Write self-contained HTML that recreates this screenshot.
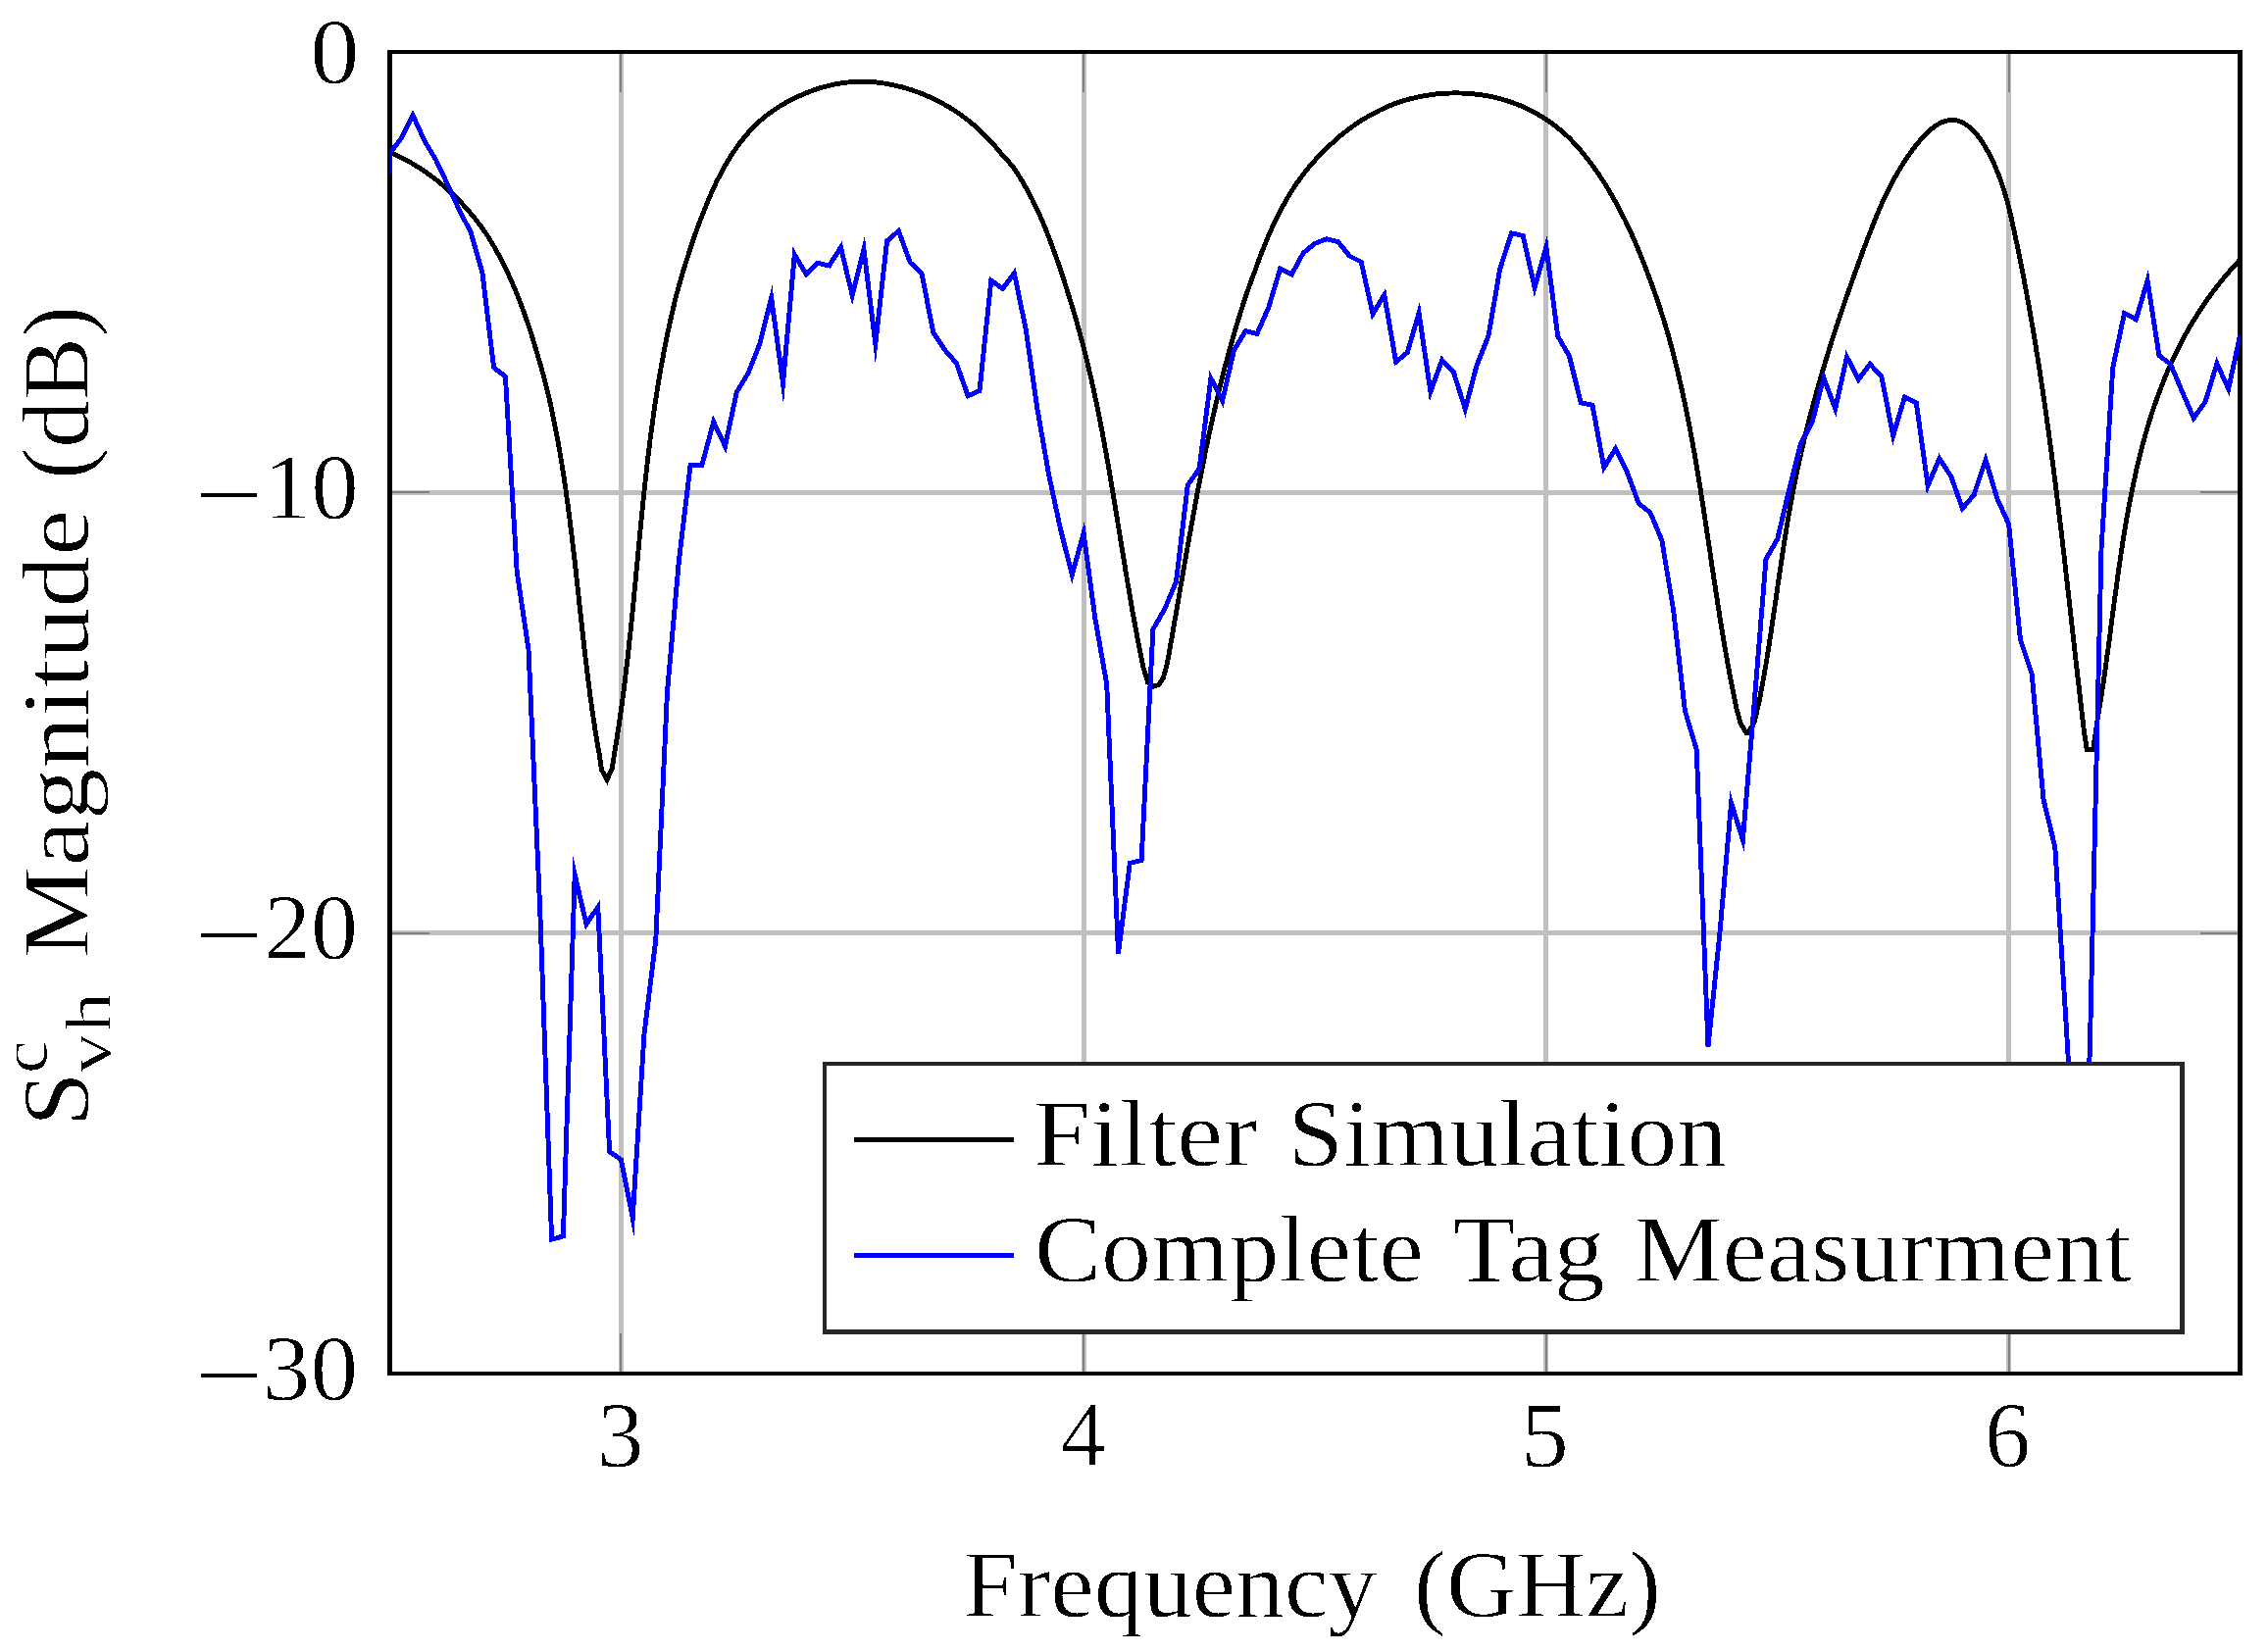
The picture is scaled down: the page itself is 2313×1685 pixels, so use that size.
<!DOCTYPE html>
<html lang="en"><head><meta charset="utf-8"><title>Filter Simulation vs Complete Tag Measurment</title>
<style>html,body{margin:0;padding:0;background:#fff}svg{display:block}</style></head>
<body>
<svg xmlns="http://www.w3.org/2000/svg" width="2313" height="1685" viewBox="0 0 2313 1685" font-family="Liberation Serif, serif" fill="#000" shape-rendering="crispEdges">
<rect width="2313" height="1685" fill="#fff"/>
<defs><filter id="th" filterUnits="userSpaceOnUse" x="0" y="0" width="2313" height="1685" color-interpolation-filters="sRGB"><feColorMatrix type="matrix" values="0 0 0 0 0 0 0 0 0 0 0 0 0 0 0 -1 0 0 1 0"/><feComponentTransfer><feFuncA type="discrete" tableValues="0 1"/></feComponentTransfer></filter><clipPath id="c"><rect x="397.5" y="53.1" width="1887" height="1347.8"/></clipPath></defs>
<path d="M633.4 53.1V1400.9M1105.1 53.1V1400.9M1576.9 53.1V1400.9M2048.6 53.1V1400.9M397.5 502.4H2284.5M397.5 951.6H2284.5" stroke="#bfbfbf" stroke-width="5.0" fill="none"/>
<path d="M633.4 53.1v40.5M633.4 1400.9v-40.5M1105.1 53.1v40.5M1105.1 1400.9v-40.5M1576.9 53.1v40.5M1576.9 1400.9v-40.5M2048.6 53.1v40.5M2048.6 1400.9v-40.5M397.5 53.1h40.5M2284.5 53.1h-40.5M397.5 502.4h40.5M2284.5 502.4h-40.5M397.5 951.6h40.5M2284.5 951.6h-40.5M397.5 1400.9h40.5M2284.5 1400.9h-40.5" stroke="#7f7f7f" stroke-width="1.9" fill="none"/>
<rect x="397.5" y="53.1" width="1887" height="1347.8" fill="none" stroke="#000" stroke-width="4.6"/>
<g clip-path="url(#c)" fill="none" stroke-linejoin="miter" stroke-miterlimit="10" stroke-width="4.9">
<path d="M397.4 155.1 L400.3 156.4 L403.2 157.7 L406 159.1 L408.8 160.5 L411.6 161.9 L414.3 163.3 L417 164.8 L419.7 166.3 L422.3 167.9 L424.9 169.5 L427.5 171.1 L430 172.7 L432.5 174.4 L435 176.1 L437.4 177.9 L439.9 179.6 L442.2 181.4 L444.6 183.2 L446.9 185.1 L449.2 187 L451.4 188.9 L453.7 190.8 L455.9 192.7 L458.1 194.7 L460.2 196.7 L462.3 198.7 L464.4 200.7 L466.5 202.7 L468.5 204.8 L470.5 206.9 L472.5 209 L474.4 211.1 L476.3 213.3 L478.2 215.4 L480.1 217.7 L481.9 219.9 L483.8 222.1 L485.6 224.4 L487.3 226.7 L489.1 229 L490.8 231.3 L492.5 233.7 L494.1 236 L495.8 238.4 L497.4 240.9 L499 243.5 L500.6 246.1 L502.1 248.7 L503.7 251.3 L505.2 253.9 L506.7 256.6 L508.1 259.2 L509.6 261.9 L511 264.6 L512.4 267.3 L513.8 270 L515.1 272.8 L516.5 275.6 L517.8 278.4 L519.1 281.2 L520.4 284 L521.6 286.9 L522.9 289.7 L524.1 292.6 L525.3 295.4 L526.5 298.3 L527.7 301.2 L528.8 304.1 L530 307 L531.1 309.9 L532.2 312.8 L533.3 315.7 L534.3 318.6 L535.4 321.6 L536.4 324.5 L537.4 327.4 L538.4 330.4 L539.4 333.3 L540.4 336.3 L541.4 339.2 L542.3 342.2 L543.2 345.2 L544.1 348.2 L545.1 351.1 L545.9 354.1 L546.8 357.1 L547.7 360.1 L548.5 363.1 L549.4 366 L550.2 368.8 L551 371.6 L551.8 374.5 L552.6 377.3 L553.4 380.1 L554.2 383 L554.9 385.8 L555.7 388.7 L556.4 391.5 L557.1 394.4 L557.8 397.2 L558.6 400.1 L559.2 403 L559.9 405.9 L560.6 408.8 L561.3 411.8 L561.9 414.8 L562.6 417.7 L563.2 420.7 L563.8 423.7 L564.4 426.7 L565 429.7 L565.6 432.7 L566.2 435.7 L566.8 438.6 L567.4 441.6 L568 444.6 L568.5 447.6 L569.1 450.6 L569.6 453.7 L570.1 456.7 L570.7 459.7 L571.2 462.7 L571.7 465.7 L572.2 468.7 L572.7 471.7 L573.2 474.7 L573.7 477.8 L574.1 480.8 L574.6 483.8 L575.1 486.8 L575.5 489.9 L576 492.9 L576.4 495.9 L576.9 498.9 L577.3 502 L577.7 505 L578.1 508 L578.6 511.1 L579 514.1 L579.4 517.1 L579.8 520.2 L580.2 523.2 L580.6 526.3 L581 529.3 L581.3 532.3 L581.7 535.4 L582.1 538.4 L582.5 541.5 L582.9 544.5 L583.2 547.5 L583.6 550.6 L583.9 553.6 L584.3 556.7 L584.7 559.7 L585 562.8 L585.4 565.8 L585.7 568.8 L586.1 571.9 L586.4 574.9 L586.7 578 L587.1 581 L587.4 584.1 L587.8 587.1 L588.1 590.1 L588.4 593.2 L588.8 596.2 L589.1 599.2 L589.4 602.3 L589.8 605.3 L590.1 608.4 L590.4 611.4 L590.7 614.4 L591.1 617.5 L591.4 620.5 L591.7 623.5 L592.1 626.6 L592.4 629.6 L592.7 632.6 L593.1 635.6 L593.4 638.7 L593.7 641.7 L594.1 644.7 L594.4 647.7 L594.7 650.7 L595.1 653.8 L595.4 656.8 L595.8 659.8 L596.1 662.8 L596.5 665.8 L596.8 668.8 L597.2 671.8 L597.5 674.8 L597.9 677.8 L598.2 680.8 L598.6 683.8 L599 686.8 L599.3 689.8 L599.7 692.8 L600.1 695.8 L600.5 698.8 L600.9 701.7 L601.2 704.7 L601.6 707.7 L602 710.7 L602.4 713.6 L602.9 716.6 L603.3 719.6 L603.7 722.5 L604.1 725.5 L604.5 728.4 L605 731.4 L605.4 734.3 L605.9 737.3 L606.3 740.2 L606.8 743.2 L607.2 746.1 L607.7 749 L608.2 752 L608.7 754.9 L609.2 757.8 L609.6 760.7 L610.2 763.6 L610.7 766.5 L611.2 769.4 L613.5 785.2 L619.1 795.4 L624.3 783.6 L627.7 761.6 L628.2 758.6 L628.7 755.6 L629.2 752.7 L629.6 749.7 L630.1 746.7 L630.6 743.8 L631 740.8 L631.5 737.8 L631.9 734.8 L632.3 731.9 L632.8 728.9 L633.2 725.9 L633.6 722.9 L634 720 L634.4 717 L634.8 714 L635.2 711 L635.6 708 L636 705.1 L636.4 702.1 L636.7 699.1 L637.1 696.1 L637.5 693.1 L637.8 690.1 L638.2 687.2 L638.6 684.2 L638.9 681.2 L639.3 678.2 L639.6 675.2 L640 672.2 L640.3 669.3 L640.6 666.3 L641 663.3 L641.3 660.3 L641.6 657.3 L641.9 654.3 L642.2 651.3 L642.6 648.3 L642.9 645.4 L643.2 642.4 L643.5 639.4 L643.8 636.4 L644.1 633.4 L644.4 630.4 L644.7 627.4 L645 624.4 L645.3 621.4 L645.6 618.4 L645.9 615.4 L646.2 612.5 L646.5 609.5 L646.8 606.5 L647 603.5 L647.3 600.5 L647.6 597.5 L647.9 594.5 L648.2 591.5 L648.5 588.5 L648.7 585.5 L649 582.5 L649.3 579.5 L649.6 576.6 L649.9 573.6 L650.2 570.6 L650.4 567.6 L650.7 564.6 L651 561.6 L651.3 558.6 L651.6 555.6 L651.9 552.6 L652.1 549.6 L652.4 546.6 L652.7 543.6 L653 540.6 L653.3 537.7 L653.6 534.7 L653.9 531.7 L654.2 528.7 L654.5 525.7 L654.8 522.7 L655.1 519.7 L655.4 516.7 L655.7 513.7 L656 510.7 L656.3 507.8 L656.6 504.8 L656.9 501.8 L657.2 498.8 L657.6 495.8 L657.9 492.8 L658.2 489.8 L658.5 486.8 L658.9 483.9 L659.2 480.9 L659.5 477.9 L659.9 474.9 L660.2 471.9 L660.6 468.9 L660.9 465.9 L661.3 463 L661.6 460 L662 457 L662.4 454 L662.7 451 L663.1 448 L663.5 445.1 L663.9 442.1 L664.3 439.1 L664.7 436.1 L665.1 433.1 L665.5 430.2 L665.9 427.2 L666.3 424.2 L666.7 421.2 L667.2 418.3 L667.6 415.3 L668 412.3 L668.5 409.3 L668.9 406.4 L669.4 403.4 L669.9 400.4 L670.3 397.5 L670.8 394.5 L671.3 391.5 L671.8 388.6 L672.3 385.6 L672.8 382.6 L673.3 379.7 L673.8 376.7 L674.3 373.7 L674.9 370.8 L675.4 367.8 L676 364.8 L676.5 361.9 L677.1 358.9 L677.6 356 L678.2 353 L678.8 350 L679.4 347.1 L680 344.1 L680.6 341.2 L681.2 338.2 L681.9 335.3 L682.5 332.3 L683.1 329.4 L683.8 326.4 L684.5 323.5 L685.1 320.5 L685.8 317.6 L686.5 314.6 L687.2 311.7 L687.9 308.8 L688.6 305.8 L689.4 302.9 L690.1 300 L690.9 297.2 L691.6 294.4 L692.4 291.6 L693.2 288.8 L694 286.1 L694.8 283.3 L695.6 280.5 L696.4 277.8 L697.2 275 L698.1 272.2 L698.9 269.5 L699.8 266.7 L700.7 263.9 L701.6 261.1 L702.5 258.3 L703.4 255.4 L704.3 252.6 L705.2 249.8 L706.2 247 L707.1 244.1 L708.1 241.3 L709.1 238.5 L710.1 235.7 L711.1 232.9 L712.1 230.1 L713.2 227.3 L714.2 224.5 L715.3 221.7 L716.4 219 L717.5 216.2 L718.6 213.4 L719.7 210.7 L720.9 207.8 L722 205 L723.2 202.1 L724.5 199.3 L725.7 196.5 L726.9 193.7 L728.2 190.9 L729.5 188.1 L730.8 185.3 L732.2 182.6 L733.6 179.9 L735 177.2 L736.4 174.5 L737.8 171.8 L739.3 169.2 L740.8 166.6 L742.3 164 L743.9 161.5 L745.5 158.9 L747.1 156.4 L748.8 154 L750.5 151.5 L752.2 149.1 L753.9 146.7 L755.7 144.4 L757.6 142.1 L759.4 139.8 L761.3 137.5 L763.2 135.3 L765.2 133.2 L767.2 131 L769.2 128.9 L771.3 126.9 L773.4 124.9 L775.6 122.9 L777.8 121 L780 119.1 L782.3 117.3 L784.6 115.6 L787 113.9 L789.4 112.2 L791.8 110.6 L794.3 109 L796.8 107.4 L799.3 106 L801.8 104.5 L804.4 103.1 L807 101.8 L809.7 100.5 L812.3 99.2 L815 98 L817.7 96.7 L820.5 95.6 L823.2 94.4 L826 93.3 L828.8 92.3 L831.6 91.3 L834.5 90.4 L837.3 89.5 L840.2 88.7 L843.1 87.9 L846 87.2 L848.9 86.5 L851.8 85.9 L854.8 85.4 L857.7 84.9 L860.7 84.5 L863.6 84.1 L866.6 83.8 L869.6 83.5 L872.6 83.3 L875.5 83.2 L878.5 83.1 L881.5 83.1 L884.5 83.2 L887.5 83.4 L890.5 83.7 L893.5 83.9 L896.5 84.3 L899.4 84.7 L902.4 85.1 L905.4 85.6 L908.3 86.2 L911.3 86.8 L914.2 87.5 L917.2 88.2 L920.1 88.9 L923 89.8 L925.9 90.6 L928.8 91.5 L931.7 92.5 L934.6 93.5 L937.4 94.5 L940.2 95.6 L943.1 96.8 L945.8 98 L948.6 99.2 L951.4 100.5 L954.1 101.8 L956.8 103.1 L959.5 104.5 L962.1 106 L964.8 107.5 L967.4 109 L970 110.6 L972.5 112.2 L975 113.8 L977.5 115.5 L980 117.2 L982.4 119 L984.8 120.8 L987.2 122.6 L989.5 124.5 L991.8 126.4 L994.1 128.3 L996.3 130.3 L998.5 132.3 L1000.7 134.3 L1002.8 136.4 L1004.9 138.5 L1007 140.6 L1009 142.8 L1011 145 L1013 147.2 L1015 149.4 L1016.9 151.7 L1018.8 154 L1020.7 156.2 L1022.5 158.1 L1024.3 160 L1026.1 162 L1027.9 164 L1029.6 166.1 L1031.3 168.1 L1033 170.2 L1034.7 172.4 L1036.3 174.8 L1037.9 177.3 L1039.5 179.9 L1041 182.5 L1042.6 185 L1044.1 187.6 L1045.6 190.3 L1047.1 192.9 L1048.5 195.6 L1050 198.2 L1051.4 200.9 L1052.8 203.6 L1054.1 206.3 L1055.5 209 L1056.8 211.8 L1058.1 214.5 L1059.4 217.3 L1060.7 220.2 L1062 223.1 L1063.2 226.1 L1064.5 229.1 L1065.7 232 L1066.9 235 L1068 238 L1069.2 241 L1070.4 244 L1071.5 247 L1072.6 250 L1073.7 253 L1074.8 256 L1075.9 259 L1077 262 L1078 265 L1079.1 268 L1080.1 271 L1081.2 274 L1082.2 277 L1083.2 280 L1084.2 283 L1085.1 286 L1086.1 289.1 L1087.1 292.1 L1088 295.1 L1088.9 298.1 L1089.9 301.1 L1090.8 304 L1091.7 306.9 L1092.6 309.8 L1093.4 312.6 L1094.3 315.5 L1095.2 318.4 L1096 321.3 L1096.9 324.2 L1097.7 327.1 L1098.5 330 L1099.3 332.9 L1100.1 335.8 L1100.9 338.7 L1101.7 341.6 L1102.5 344.5 L1103.3 347.4 L1104 350.3 L1104.8 353.2 L1105.5 356.1 L1106.3 359 L1107 361.9 L1107.7 364.8 L1108.4 367.8 L1109.1 370.7 L1109.8 373.6 L1110.5 376.5 L1111.2 379.4 L1111.9 382.3 L1112.5 385.2 L1113.2 388.2 L1113.8 391.1 L1114.5 394 L1115.1 396.9 L1115.8 399.8 L1116.4 402.8 L1117 405.7 L1117.6 408.6 L1118.3 411.5 L1118.9 414.5 L1119.5 417.4 L1120.1 420.3 L1120.6 423.3 L1121.2 426.2 L1121.8 429.1 L1122.4 432.1 L1122.9 435 L1123.5 437.9 L1124.1 440.9 L1124.6 443.8 L1125.2 446.7 L1125.7 449.7 L1126.3 452.6 L1126.8 455.5 L1127.3 458.5 L1127.9 461.4 L1128.4 464.4 L1128.9 467.3 L1129.4 470.3 L1130 473.2 L1130.5 476.1 L1131 479.1 L1131.5 482 L1132 485 L1132.5 487.9 L1133 490.9 L1133.5 493.8 L1134 496.8 L1134.5 499.7 L1135 502.7 L1135.5 505.6 L1136 508.6 L1136.5 511.5 L1136.9 514.5 L1137.4 517.4 L1137.9 520.4 L1138.4 523.3 L1138.9 526.3 L1139.4 529.3 L1139.8 532.2 L1140.3 535.2 L1140.8 538.1 L1141.3 541.1 L1141.8 544 L1142.2 547 L1142.7 550 L1143.2 552.9 L1143.7 555.9 L1144.2 558.8 L1144.6 561.8 L1145.1 564.8 L1145.6 567.7 L1146.1 570.7 L1146.6 573.7 L1147.1 576.6 L1147.5 579.6 L1148 582.5 L1148.5 585.5 L1149 588.5 L1149.5 591.4 L1150 594.4 L1150.5 597.4 L1151 600.3 L1151.5 603.3 L1152 606.3 L1152.5 609.2 L1153.1 612.2 L1153.6 615.2 L1154.1 618.1 L1154.6 621.1 L1155.1 624.1 L1155.7 627 L1156.2 630 L1156.7 633 L1157.3 635.9 L1157.8 638.9 L1158.4 641.9 L1158.9 644.8 L1159.5 647.8 L1160 650.8 L1160.6 653.7 L1161.2 656.7 L1161.7 659.7 L1162.3 662.7 L1162.9 665.6 L1163.5 668.6 L1164.1 671.6 L1164.7 674.5 L1165.3 677.5 L1165.9 680.5 L1170.6 696.2 L1176.1 700.2 L1181.7 698.6 L1186.4 691.5 L1190.3 677.3 L1190.8 674.3 L1191.4 671.3 L1191.9 668.4 L1192.4 665.4 L1193 662.4 L1193.5 659.4 L1194 656.4 L1194.5 653.4 L1195.1 650.4 L1195.6 647.5 L1196.1 644.5 L1196.6 641.5 L1197.1 638.5 L1197.6 635.5 L1198.2 632.6 L1198.7 629.6 L1199.2 626.6 L1199.7 623.6 L1200.2 620.7 L1200.7 617.7 L1201.2 614.7 L1201.8 611.8 L1202.3 608.8 L1202.8 605.8 L1203.3 602.8 L1203.8 599.9 L1204.3 596.9 L1204.8 594 L1205.3 591 L1205.9 588 L1206.4 585.1 L1206.9 582.1 L1207.4 579.1 L1207.9 576.2 L1208.4 573.2 L1208.9 570.3 L1209.5 567.3 L1210 564.4 L1210.5 561.4 L1211 558.5 L1211.5 555.5 L1212.1 552.5 L1212.6 549.6 L1213.1 546.6 L1213.6 543.7 L1214.2 540.7 L1214.7 537.8 L1215.2 534.9 L1215.8 531.9 L1216.3 529 L1216.8 526 L1217.4 523.1 L1217.9 520.1 L1218.5 517.2 L1219 514.2 L1219.5 511.3 L1220.1 508.4 L1220.6 505.4 L1221.2 502.5 L1221.8 499.5 L1222.3 496.6 L1222.9 493.7 L1223.4 490.7 L1224 487.8 L1224.6 484.9 L1225.2 481.9 L1225.7 479 L1226.3 476.1 L1226.9 473.1 L1227.5 470.2 L1228.1 467.3 L1228.7 464.3 L1229.2 461.4 L1229.8 458.5 L1230.4 455.6 L1231.1 452.7 L1231.7 449.8 L1232.3 446.9 L1232.9 444 L1233.5 441.1 L1234.1 438.3 L1234.8 435.4 L1235.4 432.5 L1236 429.6 L1236.7 426.7 L1237.3 423.8 L1238 421 L1238.6 418.1 L1239.3 415.2 L1239.9 412.3 L1240.6 409.4 L1241.3 406.6 L1242 403.7 L1242.7 400.8 L1243.3 397.9 L1244 395.1 L1244.7 392.2 L1245.4 389.4 L1246.1 386.5 L1246.9 383.7 L1247.6 380.9 L1248.3 378.1 L1249 375.2 L1249.8 372.4 L1250.5 369.6 L1251.3 366.8 L1252 364 L1252.8 361.2 L1253.5 358.3 L1254.3 355.5 L1255.1 352.7 L1255.9 349.9 L1256.7 347.1 L1257.5 344.3 L1258.3 341.5 L1259.1 338.7 L1259.9 335.9 L1260.7 333.1 L1261.5 330.4 L1262.4 327.7 L1263.2 324.9 L1264.1 322.2 L1264.9 319.5 L1265.8 316.7 L1266.7 314 L1267.5 311.3 L1268.4 308.6 L1269.3 305.9 L1270.2 303.1 L1271.1 300.4 L1272 297.7 L1273 295 L1273.9 292.3 L1274.9 289.6 L1275.8 287 L1276.8 284.3 L1277.8 281.7 L1278.8 279.1 L1279.8 276.5 L1280.8 273.6 L1281.9 270.6 L1282.9 267.7 L1284 264.8 L1285.1 261.9 L1286.2 259 L1287.3 256 L1288.5 253.2 L1289.6 250.3 L1290.8 247.4 L1292 244.5 L1293.2 241.7 L1294.4 238.8 L1295.7 236 L1297 233.1 L1298.3 230.3 L1299.6 227.5 L1301 224.6 L1302.3 221.8 L1303.7 219 L1305.1 216.2 L1306.6 213.5 L1308.1 210.7 L1309.6 207.9 L1311.1 205.2 L1312.6 202.5 L1314.2 199.8 L1315.8 197.1 L1317.5 194.5 L1319.1 192 L1320.8 189.4 L1322.5 186.9 L1324.3 184.4 L1326.1 181.9 L1327.9 179.4 L1329.8 177 L1331.6 174.5 L1333.6 172.2 L1335.5 169.8 L1337.5 167.5 L1339.5 165.2 L1341.6 162.9 L1343.7 160.7 L1345.8 158.5 L1347.9 156.3 L1350.1 154.1 L1352.3 151.9 L1354.5 149.8 L1356.8 147.6 L1359.1 145.5 L1361.4 143.4 L1363.7 141.3 L1366.1 139.2 L1368.5 137.2 L1370.9 135.3 L1373.4 133.4 L1375.8 131.5 L1378.3 129.7 L1380.8 127.9 L1383.4 126.1 L1385.9 124.4 L1388.5 122.7 L1391.1 121.1 L1393.8 119.6 L1396.4 118.1 L1399.1 116.6 L1401.8 115.2 L1404.5 113.8 L1407.2 112.4 L1410 111.1 L1412.7 109.8 L1415.5 108.6 L1418.3 107.4 L1421.1 106.2 L1424 105.2 L1426.8 104.2 L1429.7 103.3 L1432.6 102.4 L1435.5 101.6 L1438.4 100.8 L1441.3 100.1 L1444.2 99.4 L1447.2 98.7 L1450.1 98.1 L1453.1 97.6 L1456.1 97.1 L1459.1 96.7 L1462.1 96.3 L1465.1 95.9 L1468.1 95.6 L1471.1 95.4 L1474.1 95.2 L1477.1 95.1 L1480.1 95 L1483.1 94.9 L1486.1 94.9 L1489.1 95 L1492.1 95.1 L1495.1 95.2 L1498.1 95.4 L1501.1 95.7 L1504.1 96 L1507.1 96.3 L1510 96.7 L1513 97.2 L1515.9 97.7 L1518.8 98.2 L1521.7 98.8 L1524.6 99.4 L1527.5 100.1 L1530.3 100.9 L1533.1 101.7 L1536 102.5 L1538.7 103.4 L1541.5 104.3 L1544.3 105.3 L1547 106.3 L1549.7 107.4 L1552.3 108.5 L1554.9 109.6 L1557.6 110.9 L1560.1 112.1 L1562.7 113.4 L1565.2 114.8 L1567.7 116.2 L1570.1 117.6 L1572.6 119.1 L1575 120.6 L1577.3 122.2 L1579.7 123.8 L1582 125.4 L1584.3 127.1 L1586.6 128.9 L1588.8 130.6 L1591 132.4 L1593.2 134.3 L1595.4 136.2 L1597.5 138.1 L1599.6 140 L1601.7 142.1 L1603.8 144.3 L1605.8 146.5 L1607.8 148.7 L1609.8 150.9 L1611.8 153.2 L1613.7 155.5 L1615.6 157.8 L1617.5 160.2 L1619.4 162.5 L1621.2 164.9 L1623.1 167.4 L1624.9 169.8 L1626.6 172.3 L1628.4 174.8 L1630.1 177.3 L1631.8 179.9 L1633.5 182.4 L1635.2 185 L1636.9 187.6 L1638.5 190.3 L1640.1 192.9 L1641.7 195.6 L1643.2 198.3 L1644.8 201 L1646.3 203.7 L1647.8 206.5 L1649.3 209.2 L1650.8 212 L1652.2 214.7 L1653.7 217.5 L1655.1 220.2 L1656.5 223 L1657.9 225.8 L1659.2 228.6 L1660.6 231.4 L1661.9 234.3 L1663.2 237.1 L1664.5 240 L1665.8 242.8 L1667 245.7 L1668.3 248.6 L1669.5 251.5 L1670.7 254.4 L1671.9 257.2 L1673.1 260.2 L1674.2 263.1 L1675.4 266 L1676.5 268.9 L1677.7 271.8 L1678.8 274.7 L1679.9 277.7 L1680.9 280.5 L1682 283.3 L1683.1 286.1 L1684.1 288.9 L1685.1 291.7 L1686.1 294.6 L1687.1 297.4 L1688.1 300.2 L1689.1 303 L1690.1 305.8 L1691 308.6 L1692 311.5 L1692.9 314.3 L1693.8 317.1 L1694.7 319.9 L1695.6 322.8 L1696.5 325.6 L1697.4 328.4 L1698.3 331.2 L1699.1 334.1 L1700 336.9 L1700.8 339.8 L1701.6 342.7 L1702.4 345.7 L1703.2 348.6 L1704 351.5 L1704.8 354.5 L1705.6 357.4 L1706.3 360.3 L1707.1 363.3 L1707.8 366.2 L1708.6 369.1 L1709.3 372.1 L1710 375 L1710.7 377.9 L1711.4 380.9 L1712.1 383.8 L1712.8 386.7 L1713.5 389.6 L1714.1 392.6 L1714.8 395.5 L1715.4 398.4 L1716.1 401.4 L1716.7 404.3 L1717.4 407.2 L1718 410.1 L1718.6 413.1 L1719.2 416 L1719.8 418.9 L1720.4 421.9 L1721 424.8 L1721.6 427.7 L1722.1 430.7 L1722.7 433.6 L1723.3 436.5 L1723.8 439.4 L1724.4 442.4 L1724.9 445.3 L1725.5 448.2 L1726 451.2 L1726.5 454.1 L1727.1 457 L1727.6 460 L1728.1 462.9 L1728.6 465.8 L1729.1 468.7 L1729.6 471.7 L1730.1 474.6 L1730.6 477.5 L1731.1 480.5 L1731.6 483.4 L1732.1 486.3 L1732.6 489.3 L1733 492.2 L1733.5 495.1 L1734 498.1 L1734.5 501 L1734.9 504 L1735.4 506.9 L1735.8 509.8 L1736.3 512.8 L1736.8 515.7 L1737.2 518.6 L1737.7 521.6 L1738.1 524.5 L1738.6 527.5 L1739 530.4 L1739.5 533.3 L1739.9 536.3 L1740.3 539.2 L1740.8 542.2 L1741.2 545.1 L1741.7 548.1 L1742.1 551 L1742.5 554 L1743 556.9 L1743.4 559.9 L1743.9 562.8 L1744.3 565.8 L1744.7 568.7 L1745.2 571.7 L1745.6 574.6 L1746 577.6 L1746.5 580.5 L1746.9 583.5 L1747.4 586.4 L1747.8 589.4 L1748.3 592.3 L1748.7 595.3 L1749.2 598.3 L1749.6 601.2 L1750.1 604.2 L1750.5 607.1 L1751 610.1 L1751.4 613.1 L1751.9 616 L1752.3 619 L1752.8 622 L1753.3 624.9 L1753.7 627.9 L1754.2 630.9 L1754.7 633.9 L1755.2 636.8 L1755.7 639.8 L1756.1 642.8 L1756.6 645.8 L1757.1 648.7 L1757.6 651.7 L1758.1 654.7 L1758.6 657.7 L1759.2 660.7 L1759.7 663.6 L1760.2 666.6 L1760.7 669.6 L1761.3 672.6 L1761.8 675.6 L1762.3 678.6 L1762.9 681.6 L1763.4 684.6 L1764 687.6 L1764.6 690.6 L1765.1 693.6 L1765.7 696.6 L1766.3 699.6 L1766.9 702.6 L1767.5 705.6 L1768.1 708.6 L1768.7 711.6 L1769.3 714.6 L1769.9 717.6 L1770.5 720.6 L1771.2 723.6 L1775.1 737.8 L1780.6 747.2 L1783 747.2 L1789.3 736.2 L1794 715.7 L1794.6 712.8 L1795.2 709.9 L1795.7 706.9 L1796.3 704 L1796.8 701.1 L1797.4 698.1 L1797.9 695.2 L1798.4 692.2 L1799 689.3 L1799.5 686.3 L1800 683.4 L1800.5 680.4 L1801 677.5 L1801.5 674.5 L1802 671.5 L1802.4 668.6 L1802.9 665.6 L1803.4 662.6 L1803.9 659.7 L1804.3 656.7 L1804.8 653.7 L1805.2 650.7 L1805.7 647.8 L1806.2 644.8 L1806.6 641.8 L1807 638.8 L1807.5 635.8 L1807.9 632.9 L1808.4 629.9 L1808.8 626.9 L1809.2 623.9 L1809.7 620.9 L1810.1 617.9 L1810.6 615 L1811 612 L1811.4 609 L1811.8 606 L1812.3 603 L1812.7 600 L1813.1 597 L1813.6 594 L1814 591 L1814.4 588.1 L1814.9 585.1 L1815.3 582.1 L1815.8 579.1 L1816.2 576.1 L1816.6 573.1 L1817.1 570.1 L1817.5 567.1 L1818 564.2 L1818.4 561.2 L1818.9 558.2 L1819.4 555.2 L1819.8 552.2 L1820.3 549.2 L1820.8 546.3 L1821.2 543.3 L1821.7 540.3 L1822.2 537.3 L1822.7 534.3 L1823.2 531.4 L1823.7 528.4 L1824.2 525.4 L1824.7 522.5 L1825.2 519.5 L1825.8 516.5 L1826.3 513.6 L1826.8 510.6 L1827.4 507.6 L1827.9 504.7 L1828.5 501.7 L1829.1 498.8 L1829.6 495.8 L1830.2 492.9 L1830.8 489.9 L1831.4 487 L1832 484 L1832.6 481.1 L1833.3 478.2 L1833.9 475.2 L1834.5 472.3 L1835.2 469.4 L1835.8 466.4 L1836.5 463.5 L1837.1 460.6 L1837.8 457.7 L1838.5 454.7 L1839.2 451.8 L1839.9 448.9 L1840.6 446 L1841.3 443.1 L1842 440.2 L1842.7 437.2 L1843.5 434.3 L1844.2 431.4 L1844.9 428.5 L1845.7 425.6 L1846.4 422.7 L1847.2 419.8 L1848 416.9 L1848.7 414 L1849.5 411.1 L1850.3 408.2 L1851.1 405.4 L1851.9 402.5 L1852.7 399.6 L1853.5 396.7 L1854.3 393.8 L1855.1 390.9 L1856 388.1 L1856.8 385.2 L1857.6 382.3 L1858.5 379.4 L1859.3 376.6 L1860.2 373.7 L1861.1 370.8 L1861.9 367.9 L1862.8 365.1 L1863.7 362.2 L1864.6 359.3 L1865.4 356.5 L1866.3 353.6 L1867.2 350.8 L1868.1 347.9 L1869.1 345 L1870 342.2 L1870.9 339.3 L1871.8 336.5 L1872.7 333.6 L1873.7 330.8 L1874.6 327.9 L1875.6 325.1 L1876.5 322.2 L1877.5 319.4 L1878.4 316.6 L1879.4 313.7 L1880.4 310.9 L1881.3 308 L1882.3 305.2 L1883.3 302.4 L1884.3 299.5 L1885.3 296.7 L1886.3 293.9 L1887.3 291 L1888.3 288.2 L1889.3 285.4 L1890.3 282.5 L1891.3 279.7 L1892.3 276.9 L1893.3 274 L1894.4 271.2 L1895.4 268.4 L1896.4 265.6 L1897.5 262.7 L1898.5 259.9 L1899.5 257.1 L1900.6 254.3 L1901.6 251.5 L1902.7 248.7 L1903.8 245.8 L1904.8 243 L1905.9 240.2 L1907 237.4 L1908.1 234.6 L1909.2 231.8 L1910.3 229 L1911.4 226.2 L1912.5 223.4 L1913.7 220.6 L1914.8 217.8 L1916 215 L1917.2 212.2 L1918.4 209.5 L1919.6 206.7 L1920.9 204 L1922.2 201.2 L1923.4 198.5 L1924.8 195.7 L1926.1 193 L1927.5 190.3 L1928.9 187.6 L1930.3 184.9 L1931.8 182.2 L1933.3 179.5 L1934.8 176.9 L1936.4 174.2 L1937.9 171.6 L1939.6 168.9 L1941.2 166.3 L1942.9 163.7 L1944.7 161.1 L1946.4 158.5 L1948.3 155.9 L1950.1 153.4 L1952 150.8 L1954 148.3 L1956 145.8 L1958 143.4 L1960.1 141 L1962.2 138.8 L1964.3 136.6 L1966.5 134.5 L1968.7 132.5 L1970.9 130.7 L1973.1 129 L1975.4 127.4 L1977.7 126.1 L1980 124.9 L1982.3 124 L1984.6 123.2 L1987 122.7 L1989.4 122.5 L1991.7 122.5 L1994.1 122.7 L1996.5 123.2 L1998.8 124 L2001.2 124.9 L2003.5 126.2 L2005.8 127.6 L2008 129.2 L2010.1 131 L2012.2 133 L2014.2 135.2 L2016.2 137.5 L2018.1 139.9 L2020 142.5 L2021.8 145.2 L2023.5 147.9 L2025.2 150.7 L2026.8 153.6 L2028.3 156.4 L2029.8 159.3 L2031.3 162.2 L2032.6 165.1 L2034 168 L2035.2 170.9 L2036.4 173.8 L2037.6 176.7 L2038.7 179.6 L2039.8 182.5 L2040.8 185.4 L2041.8 188.3 L2042.8 191.2 L2043.7 194.1 L2044.6 197 L2045.5 199.9 L2046.3 202.8 L2047.1 205.7 L2047.9 208.6 L2048.6 211.6 L2049.3 214.5 L2050 217.4 L2050.7 220.3 L2051.4 223.2 L2052.1 226.1 L2052.7 229.1 L2053.3 232 L2054 234.9 L2054.6 237.8 L2055.2 240.7 L2055.8 243.7 L2056.5 246.6 L2057.1 249.5 L2057.7 252.5 L2058.3 255.4 L2058.9 258.3 L2059.5 261.2 L2060.1 264.2 L2060.6 267.1 L2061.2 270 L2061.8 273 L2062.4 275.9 L2062.9 278.9 L2063.5 281.8 L2064.1 284.7 L2064.6 287.7 L2065.2 290.6 L2065.7 293.6 L2066.3 296.5 L2066.8 299.5 L2067.4 302.4 L2067.9 305.4 L2068.4 308.3 L2069 311.3 L2069.5 314.2 L2070 317.2 L2070.6 320.1 L2071.1 323.1 L2071.6 326 L2072.1 329 L2072.6 331.9 L2073.1 334.9 L2073.6 337.8 L2074.1 340.8 L2074.6 343.8 L2075.1 346.7 L2075.6 349.7 L2076.1 352.6 L2076.6 355.6 L2077 358.6 L2077.5 361.5 L2078 364.5 L2078.5 367.5 L2078.9 370.4 L2079.4 373.4 L2079.9 376.4 L2080.3 379.3 L2080.8 382.3 L2081.2 385.3 L2081.7 388.2 L2082.1 391.2 L2082.6 394.2 L2083 397.1 L2083.5 400.1 L2083.9 403.1 L2084.3 406.1 L2084.8 409 L2085.2 412 L2085.6 415 L2086.1 418 L2086.5 420.9 L2086.9 423.9 L2087.3 426.9 L2087.7 429.9 L2088.2 432.9 L2088.6 435.8 L2089 438.8 L2089.4 441.8 L2089.8 444.8 L2090.2 447.8 L2090.6 450.7 L2091 453.7 L2091.4 456.7 L2091.8 459.7 L2092.2 462.7 L2092.6 465.7 L2093 468.6 L2093.4 471.6 L2093.8 474.6 L2094.1 477.6 L2094.5 480.6 L2094.9 483.6 L2095.3 486.6 L2095.7 489.6 L2096.1 492.5 L2096.4 495.5 L2096.8 498.5 L2097.2 501.5 L2097.5 504.5 L2097.9 507.5 L2098.3 510.5 L2098.7 513.5 L2099 516.5 L2099.4 519.4 L2099.7 522.4 L2100.1 525.4 L2100.5 528.4 L2100.8 531.4 L2101.2 534.4 L2101.5 537.4 L2101.9 540.4 L2102.3 543.4 L2102.6 546.4 L2103 549.4 L2103.3 552.3 L2103.7 555.3 L2104 558.3 L2104.4 561.3 L2104.7 564.3 L2105.1 567.3 L2105.4 570.3 L2105.8 573.3 L2106.1 576.3 L2106.4 579.3 L2106.8 582.3 L2107.1 585.3 L2107.5 588.3 L2107.8 591.2 L2108.2 594.2 L2108.5 597.2 L2108.8 600.2 L2109.2 603.2 L2109.5 606.2 L2109.9 609.2 L2110.2 612.2 L2110.5 615.2 L2110.9 618.2 L2111.2 621.2 L2111.5 624.2 L2111.9 627.2 L2112.2 630.1 L2112.5 633.1 L2112.9 636.1 L2113.2 639.1 L2113.6 642.1 L2113.9 645.1 L2114.2 648.1 L2114.6 651.1 L2114.9 654.1 L2115.2 657.1 L2115.6 660.1 L2115.9 663 L2116.2 666 L2116.6 669 L2116.9 672 L2117.2 675 L2117.6 678 L2117.9 681 L2118.3 684 L2118.6 686.9 L2118.9 689.9 L2119.3 692.9 L2119.6 695.9 L2120 698.9 L2120.3 701.9 L2120.6 704.9 L2121 707.8 L2121.3 710.8 L2121.7 713.8 L2122 716.8 L2122.3 719.8 L2122.7 722.8 L2123 725.7 L2123.4 728.7 L2123.7 731.7 L2124.1 734.7 L2124.4 737.7 L2124.8 740.6 L2125.1 743.6 L2128.3 764.9 L2134.6 764.9 L2139.3 732.6 L2139.8 729.7 L2140.3 726.8 L2140.8 723.8 L2141.3 720.9 L2141.7 718 L2142.2 715 L2142.7 712.1 L2143.1 709.1 L2143.6 706.2 L2144 703.2 L2144.5 700.3 L2144.9 697.3 L2145.4 694.4 L2145.8 691.4 L2146.2 688.4 L2146.6 685.4 L2147.1 682.5 L2147.5 679.5 L2147.9 676.5 L2148.3 673.5 L2148.7 670.5 L2149.1 667.5 L2149.5 664.5 L2150 661.5 L2150.4 658.5 L2150.8 655.5 L2151.2 652.5 L2151.6 649.5 L2152 646.5 L2152.4 643.5 L2152.7 640.5 L2153.1 637.5 L2153.5 634.5 L2153.9 631.5 L2154.3 628.4 L2154.7 625.4 L2155.1 622.4 L2155.5 619.4 L2155.9 616.4 L2156.3 613.3 L2156.7 610.3 L2157.1 607.3 L2157.5 604.3 L2158 601.3 L2158.4 598.2 L2158.8 595.2 L2159.2 592.2 L2159.6 589.2 L2160 586.1 L2160.5 583.1 L2160.9 580.1 L2161.3 577.1 L2161.8 574.1 L2162.2 571 L2162.6 568 L2163.1 565 L2163.6 562 L2164 559 L2164.5 555.9 L2164.9 552.9 L2165.4 549.9 L2165.9 546.9 L2166.4 543.9 L2166.9 540.9 L2167.4 537.9 L2167.9 534.9 L2168.4 531.9 L2168.9 528.9 L2169.5 525.9 L2170 522.9 L2170.5 519.9 L2171.1 516.9 L2171.6 513.9 L2172.2 511 L2172.8 508 L2173.4 505 L2174 502 L2174.6 499.1 L2175.2 496.1 L2175.8 493.1 L2176.4 490.2 L2177.1 487.2 L2177.7 484.3 L2178.4 481.3 L2179 478.4 L2179.7 475.4 L2180.4 472.5 L2181.1 469.5 L2181.8 466.6 L2182.6 463.7 L2183.3 460.8 L2184 457.9 L2184.8 455 L2185.6 452.1 L2186.4 449.2 L2187.2 446.3 L2188 443.4 L2188.8 440.5 L2189.6 437.6 L2190.5 434.7 L2191.3 431.9 L2192.2 429 L2193.1 426.2 L2194 423.3 L2194.9 420.5 L2195.9 417.6 L2196.8 414.8 L2197.8 412 L2198.8 409.2 L2199.8 406.3 L2200.8 403.5 L2201.8 400.7 L2202.9 398 L2203.9 395.2 L2205 392.4 L2206.1 389.6 L2207.2 386.9 L2208.3 384.1 L2209.5 381.4 L2210.6 378.6 L2211.8 375.9 L2213 373.2 L2214.2 370.5 L2215.5 367.8 L2216.7 365.1 L2218 362.4 L2219.3 359.7 L2220.6 357 L2221.9 354.3 L2223.3 351.7 L2224.6 349 L2226 346.4 L2227.4 343.8 L2228.9 341.2 L2230.3 338.5 L2231.8 335.9 L2233.3 333.3 L2234.8 330.8 L2236.3 328.2 L2237.9 325.6 L2239.5 323.1 L2241.1 320.5 L2242.7 318 L2244.3 315.5 L2246 313 L2247.7 310.5 L2249.4 308 L2251.1 305.5 L2252.9 303 L2254.7 300.6 L2256.5 298.1 L2258.3 295.7 L2260.2 293.2 L2262.1 290.8 L2264 288.4 L2265.9 286 L2267.8 283.7 L2269.8 281.3 L2271.8 278.9 L2273.9 276.6 L2275.9 274.2 L2278 271.9 L2280.1 269.6 L2282.2 267.3 L2284.4 265" stroke="#000"/>
<path d="M397.3 177 L397.5 156.4 L409.3 141 L421.1 117.6 L432.9 143.6 L444.7 163.3 L456.5 188.3 L468.3 213.9 L480.1 236.9 L491.9 277.9 L503.6 375 L515.4 384 L527.2 583 L539 662.3 L550.8 930 L562.6 1264.1 L574.4 1261 L586.2 891.9 L598 942.6 L609.8 925.1 L621.6 1174.6 L633.4 1182.8 L645.2 1242.4 L657 1054.5 L668.8 958.5 L680.5 705.8 L692.3 572.8 L704.1 474.3 L715.9 474.3 L727.7 430.2 L739.5 455.2 L751.3 400 L763.1 380.3 L774.9 350.6 L786.7 303.8 L798.5 391 L810.3 259.6 L822.1 279.6 L833.9 268.4 L845.7 270.9 L857.5 252.3 L869.2 301.4 L881 254.2 L892.8 350.8 L904.6 245.8 L916.4 235.6 L928.2 267.7 L940 278.7 L951.8 339.3 L963.6 357 L975.4 370.4 L987.2 403.8 L999 398.6 L1010.8 286.1 L1022.6 294.5 L1034.4 278.6 L1046.2 335.9 L1057.9 417 L1069.7 484.7 L1081.5 539.5 L1093.3 586.4 L1105.1 543.8 L1116.9 631.1 L1128.7 698 L1140.5 972.5 L1152.3 880.5 L1164.1 877.4 L1175.9 641.8 L1187.7 621.4 L1199.5 593.2 L1211.3 494.8 L1223.1 478 L1234.9 385.8 L1246.7 408.8 L1258.4 357.4 L1270.2 337.6 L1282 340.4 L1293.8 313.6 L1305.6 274.1 L1317.4 279.8 L1329.2 257.9 L1341 248.4 L1352.8 243.8 L1364.6 246.6 L1376.4 261.2 L1388.2 267.1 L1400 320.3 L1411.8 300.8 L1423.6 369.1 L1435.3 359.5 L1447.1 319.2 L1458.9 399.5 L1470.7 367.2 L1482.5 379.9 L1494.3 417.3 L1506.1 372.5 L1517.9 342.9 L1529.7 274.4 L1541.5 237.8 L1553.3 240.6 L1565.1 293.3 L1576.9 251.7 L1588.7 342.9 L1600.5 363.3 L1612.3 410.9 L1624 413.1 L1635.8 476.9 L1647.6 457.6 L1659.4 481.6 L1671.2 513.4 L1683 522.9 L1694.8 551 L1706.6 622 L1718.4 724.9 L1730.2 764.6 L1742 1067.8 L1753.8 953 L1765.6 818.9 L1777.4 856.7 L1789.2 716 L1801 570.2 L1812.8 549.7 L1824.5 500 L1836.3 452.7 L1848.1 430.9 L1859.9 385.2 L1871.7 416.9 L1883.5 364 L1895.3 387.1 L1907.1 371.3 L1918.9 384.3 L1930.7 444.5 L1942.5 404.8 L1954.3 410.7 L1966.1 495.5 L1977.9 467.6 L1989.7 485.9 L2001.4 518.6 L2013.2 504.7 L2025 468.9 L2036.8 508.5 L2048.6 534.6 L2060.4 651.9 L2072.2 687.7 L2084 815.4 L2095.8 864 L2107.6 1052 L2119.4 1250 L2131.2 1076 L2143 560 L2154.8 374.7 L2166.6 319.4 L2178.4 325.8 L2190.1 286.1 L2201.9 362.6 L2213.7 371.5 L2225.5 399.5 L2237.3 426.5 L2249.1 409.7 L2260.9 370.8 L2272.7 396.7 L2284.5 342.3" stroke="#00f"/>
</g>
<rect x="841.0" y="1085.0" width="1384.6" height="273.4" fill="#fff" stroke="#262626" stroke-width="4.6"/>
<path d="M871.2 1162.9H1033.8" stroke="#000" stroke-width="4.9"/>
<path d="M871.2 1280.6H1033.8" stroke="#00f" stroke-width="4.9"/>
<g filter="url(#th)">
<text x="1053.6" y="1188.9" font-size="97" textLength="228.8" lengthAdjust="spacingAndGlyphs" stroke="#fff" stroke-width="0.8">Filter</text>
<text x="1313.3" y="1188.9" font-size="97" textLength="448" lengthAdjust="spacingAndGlyphs" stroke="#fff" stroke-width="0.8">Simulation</text>
<text x="1055" y="1307.2" font-size="97" textLength="396.7" lengthAdjust="spacingAndGlyphs" stroke="#fff" stroke-width="0.8">Complete</text>
<text x="1481.8" y="1307.2" font-size="97" textLength="154.9" lengthAdjust="spacingAndGlyphs" stroke="#fff" stroke-width="0.8">Tag</text>
<text x="1666.5" y="1307.2" font-size="97" textLength="507.8" lengthAdjust="spacingAndGlyphs" stroke="#fff" stroke-width="0.8">Measurment</text>
<text x="982.3" y="1648.5" font-size="97" textLength="422.2" lengthAdjust="spacingAndGlyphs" stroke="#fff" stroke-width="0.8">Frequency</text>
<text x="1442.1" y="1648.5" font-size="97" textLength="251.6" lengthAdjust="spacingAndGlyphs" stroke="#fff" stroke-width="0.8">(GHz)</text>
<text x="608.8" y="1495.6" font-size="96" textLength="47.8" lengthAdjust="spacingAndGlyphs" stroke="#fff" stroke-width="0.8">3</text>
<text x="1081.6" y="1495.3" font-size="96" textLength="46.1" lengthAdjust="spacingAndGlyphs" stroke="#fff" stroke-width="0.8">4</text>
<text x="1551.1" y="1495.6" font-size="96" textLength="49" lengthAdjust="spacingAndGlyphs" stroke="#fff" stroke-width="0.8">5</text>
<text x="2024" y="1495.8" font-size="96" textLength="46.8" lengthAdjust="spacingAndGlyphs" stroke="#fff" stroke-width="0.8">6</text>
<text x="316.2" y="84.6" font-size="96" textLength="50.2" lengthAdjust="spacingAndGlyphs" stroke="#fff" stroke-width="0.8">0</text>
<text x="268.7" y="529.4" font-size="96" textLength="96.9" lengthAdjust="spacingAndGlyphs" stroke="#fff" stroke-width="0.8">10</text>
<text x="268.9" y="978.2" font-size="96" textLength="96" lengthAdjust="spacingAndGlyphs" stroke="#fff" stroke-width="0.8">20</text>
<text x="267.8" y="1428" font-size="96" textLength="97.2" lengthAdjust="spacingAndGlyphs" stroke="#fff" stroke-width="0.8">30</text>
<text x="197.4" y="536.7" font-size="96" textLength="71.6" lengthAdjust="spacingAndGlyphs" stroke="#fff" stroke-width="0.8">−</text>
<text x="197.4" y="985.6" font-size="96" textLength="71.6" lengthAdjust="spacingAndGlyphs" stroke="#fff" stroke-width="0.8">−</text>
<text x="197.4" y="1435.1" font-size="96" textLength="71.6" lengthAdjust="spacingAndGlyphs" stroke="#fff" stroke-width="0.8">−</text>
<g transform="translate(89.9 1142.0) rotate(-90)">
<text x="-6.7" y="0" font-size="97" textLength="55.2" lengthAdjust="spacingAndGlyphs" stroke="#fff" stroke-width="0.8">S</text>
<text x="47.1" y="-41.7" font-size="67.5" textLength="34" lengthAdjust="spacingAndGlyphs" stroke="#fff" stroke-width="0.8">c</text>
<text x="46.5" y="23.1" font-size="67.5" textLength="84" lengthAdjust="spacingAndGlyphs" stroke="#fff" stroke-width="0.8">vh</text>
<text x="164.7" y="0" font-size="97" textLength="457.3" lengthAdjust="spacingAndGlyphs" stroke="#fff" stroke-width="0.8">Magnitude</text>
<text x="653" y="0" font-size="97" textLength="177.2" lengthAdjust="spacingAndGlyphs" stroke="#fff" stroke-width="0.8">(dB)</text>
</g>
</g>
</svg>
</body></html>
